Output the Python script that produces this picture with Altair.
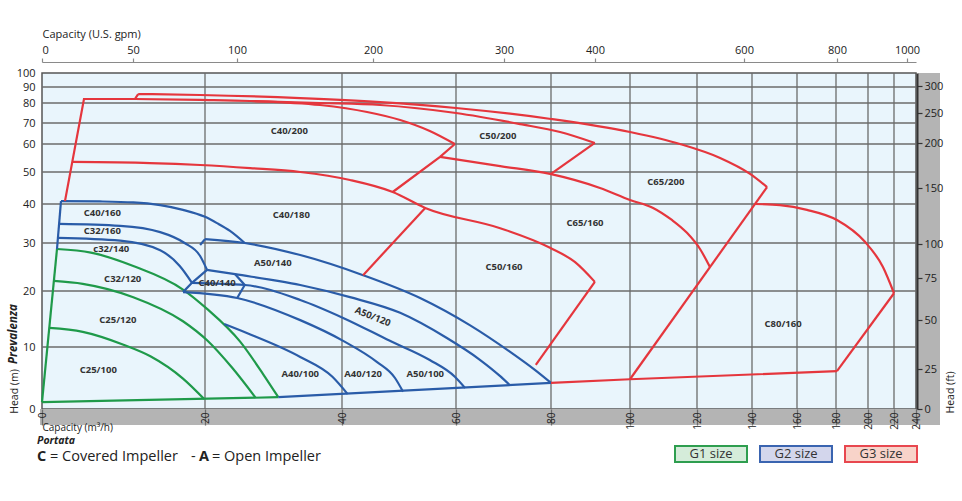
import altair as alt
import pandas as pd

# ---------------- axis tick values ----------------
q_ticks = [0, 20, 40, 60, 80, 100, 120, 140, 160, 180, 200, 220, 240]      # m3/h
h_ticks = [0, 10, 20, 30, 40, 50, 60, 70, 80, 90, 100]                     # m
gpm_ticks = [0, 50, 100, 200, 300, 400, 600, 800, 1000]                    # US gpm
ft_ticks = [0, 25, 50, 75, 100, 150, 200, 250, 300]                        # ft
grid_q = [20, 40, 60, 80, 100, 120, 140, 160, 180, 200, 220]
grid_h = [10, 20, 30, 40, 50, 60, 70, 80, 90]

# ---------------- G1 (green) ----------------
g1_bottom = [(0, 1.1), (30.7, 1.9)]
g1_left = [(0, 1.1), (1.84, 28.75)]
c25_100 = [(0.9, 13.4), (5, 12.7), (10, 10.4), (13.3, 8.5), (17.3, 4.9), (19.9, 1.6)]
c25_120 = [(1.46, 22.1), (5, 21.5), (11.2, 18.9), (17.3, 14.6), (20.3, 11.2), (24, 6.6), (27.4, 1.8)]
c32_120 = [(1.84, 28.75), (6, 28.0), (11.2, 25.2), (17.3, 20.3), (20.3, 16.8), (25.1, 11.0), (28.5, 5.6), (30.7, 1.9)]

# ---------------- G2 (blue) ----------------
g2_bottom = [(30.7, 1.9), (80, 4.2)]
g2_left = [(1.84, 28.75), (2.33, 40.9)]
c40_160 = [(2.33, 40.9), (7.1, 40.8), (11.2, 40.5), (14.5, 39.7), (17.3, 38.5), (20, 36.7), (21.75, 35.1), (23.65, 33.1), (25.8, 30.0)]
c32_160 = [(2.1, 34.9), (9.6, 34.4), (14.5, 32.8), (17.5, 30), (19.4, 27.3), (20.3, 24.4)]
c32_140 = [(1.95, 31.3), (9.6, 30.6), (14.5, 28.5), (16.9, 25.2), (18.4, 21.7)]
zig_l = [(20.3, 24.4), (18.4, 21.7), (17.3, 19.8)]
zig_r = [(24.4, 23.5), (25.8, 21.25), (24.7, 18.75)]
hook = [(19.4, 29.6), (20, 31)]
a50_140 = [(20, 31), (25.8, 30), (33.9, 27.5), (43.7, 23.3), (53.7, 18.75), (62.9, 13.9), (71.4, 9.2), (76.6, 6.3), (80, 4.2)]
a50_120 = [(20.3, 24.4), (24.4, 23.5), (33.9, 21.25), (41.4, 18.9), (50.2, 16.1), (58.4, 11.6), (65.1, 7.9), (69.3, 5.3), (71.4, 3.8)]
a50_100 = [(18.4, 21.7), (25.8, 21.25), (33.9, 18.4), (40.2, 15.2), (48.4, 11.1), (55.4, 7.9), (59.8, 5.2), (61.9, 3.4)]
a40_120 = [(17.3, 19.8), (24.7, 18.75), (33.9, 14.8), (40.2, 11.1), (46.1, 7.6), (49.3, 5.0), (50.7, 2.8)]
a40_100 = [(22.8, 14.1), (26.1, 12.5), (33.9, 8.4), (38.6, 5.2), (41, 2.4)]

# ---------------- G3 (red) ----------------
r_left = [(2.82, 40.9), (5.15, 82.5), (11.4, 82.5), (11.8, 85.6)]
c65_200 = [(11.8, 85.6), (19.4, 85.0), (33.9, 83.1), (46.7, 80.6), (60, 77.5), (80, 72), (100, 65.7), (114.9, 60), (128.4, 55), (139.3, 49.4), (146.7, 45.3)]
c40_200 = [(11.4, 82.5), (19.4, 81.9), (26.6, 81.25), (36.8, 79), (44.4, 75.5), (50.2, 71.5), (55.4, 66.2), (59.8, 60)]
c50_200 = [(26.6, 81.25), (36.8, 80), (46.7, 79), (60, 75), (73.5, 69.5), (82.3, 65.7), (91.1, 60.5)]
zig1 = [(59.8, 60), (57.2, 55.4), (48.9, 43.75)]
zig2 = [(91.1, 60.5), (80, 49.4)]
c65_160 = [(57.2, 55.4), (69.3, 52.1), (79.8, 49.4), (92.4, 45), (100, 41.25), (106.9, 39.0), (112.5, 35.9), (117, 32.6), (121.1, 28.75), (124.7, 25)]
c50_160 = [(3.72, 53.6), (13.25, 53.2), (19.4, 52.5), (26.6, 51.4), (33.9, 50), (41.4, 47.5), (48.9, 43.75), (54.6, 39), (69.3, 33.8), (79.8, 29), (86.1, 26), (91.1, 21.9)]
zig3 = [(54.6, 39), (43.7, 23.3)]
c50_160_right = [(91.1, 21.9), (76.8, 7.1)]
r_right = [(100, 4.8), (146.7, 45.3)]
c80_160 = [(141.3, 40), (152.4, 39.7), (165.1, 38.5), (180.6, 35.9), (198.1, 30.3), (211.5, 25), (220, 19.6)]
c80_160_right = [(220, 19.6), (180.6, 6.1)]
r_bottom = [(80, 4.2), (100, 4.8), (180.6, 6.1)]

# ---------------- model labels ----------------
model_names = ["C40/200", "C50/200", "C65/200", "C40/160", "C40/180", "C65/160", "C32/160",
               "c32/140", "A50/140", "C50/160", "C32/120", "C40/140", "C80/160", "C25/120",
               "C25/100", "A40/100", "A40/120", "A50/100", "A50/120"]
model_q = [32.3, 68.8, 110.7, 7.4, 32.6, 88.6, 7.4, 8.5, 29.9, 70.1, 9.9, 21.75, 153.8, 9.3,
           6.9, 33.9, 43.7, 54.6, 45.4]
model_h = [66.2, 63.8, 46.9, 37.7, 37.2, 35.1, 33.1, 28.75, 25.8, 25.0, 22.5, 21.7, 14.1, 14.8,
           6.3, 5.6, 5.6, 5.6, 15.4]

size_labels = ["G1 size", "G2 size", "G3 size"]

# ---------------- build tables ----------------
series = [
    ("g1_bottom", "G1", "line", g1_bottom), ("g1_left", "G1", "line", g1_left),
    ("c25_100", "G1", "curve", c25_100), ("c25_120", "G1", "curve", c25_120), ("c32_120", "G1", "curve", c32_120),
    ("g2_bottom", "G2", "line", g2_bottom), ("g2_left", "G2", "line", g2_left),
    ("c40_160", "G2", "curve", c40_160), ("c32_160", "G2", "curve", c32_160), ("c32_140", "G2", "curve", c32_140),
    ("zig_l", "G2", "line", zig_l), ("zig_r", "G2", "line", zig_r), ("hook", "G2", "line", hook),
    ("a50_140", "G2", "curve", a50_140), ("a50_120", "G2", "curve", a50_120), ("a50_100", "G2", "curve", a50_100),
    ("a40_120", "G2", "curve", a40_120), ("a40_100", "G2", "curve", a40_100),
    ("r_left", "G3", "line", r_left), ("c65_200", "G3", "curve", c65_200), ("c40_200", "G3", "curve", c40_200),
    ("c50_200", "G3", "curve", c50_200), ("zig1", "G3", "line", zig1), ("zig2", "G3", "line", zig2),
    ("c65_160", "G3", "curve", c65_160), ("c50_160", "G3", "curve", c50_160), ("zig3", "G3", "line", zig3),
    ("c50_160_right", "G3", "line", c50_160_right), ("r_right", "G3", "line", r_right),
    ("c80_160", "G3", "curve", c80_160), ("c80_160_right", "G3", "line", c80_160_right),
    ("r_bottom", "G3", "line", r_bottom),
]
rows = []
for name, grp, kind, pts in series:
    for i, (q, h) in enumerate(pts):
        rows.append({"series": name, "grp": grp, "kind": kind, "ord": i, "q": q, "h": h})
df_lines = pd.DataFrame(rows)
df_labels = pd.DataFrame({"lab": model_names, "q": model_q, "h": model_h})

# ---------------- layout (pixels of the plot area) ----------------
W, H = 874, 336
q_range = [0, 163, 300, 414, 509, 588, 655, 710, 755, 794, 826, 852, 874]
h_range = [336, 274, 218, 170, 131, 99, 71, 50, 30, 14, 0]
gpm_range = [0, 91, 195, 331, 462, 553, 702, 795, 865, 874]
ft_range = [336, 296, 247, 205, 171, 115, 70, 40, 13, 0]

FONT = "Open Sans"
TXT = "#222222"
GRID = "#6b6b6b"
BAND = "#b4b4b4"

xq = alt.Scale(domain=q_ticks, range=q_range, nice=False, zero=False)
yh = alt.Scale(domain=h_ticks, range=h_range, nice=False, zero=False)

x_axis = alt.Axis(values=q_ticks, labelAngle=270, labelFontSize=10, labelColor=TXT, labelFont=FONT,
                  ticks=True, tickSize=16, tickColor=GRID, tickWidth=1.3, domain=False, grid=False,
                  labelPadding=-13, labelOverlap=False, zindex=1,
                  title="Capacity  (m³/h)", titleX=0, titleY=18, titleAlign="left", titleAnchor="start",
                  titleBaseline="middle", titleFontWeight="normal", titleFontSize=10, titleColor=TXT,
                  titleFont=FONT)
y_axis = alt.Axis(values=h_ticks, ticks=False, domain=False, grid=False, labelPadding=7,
                  labelFontSize=11, labelColor=TXT, labelFont=FONT, labelOverlap=False,
                  title="Head (m)", titleAngle=270, titleX=-28, titleY=318, titleAlign="center",
                  titleBaseline="middle", titleFontWeight="normal", titleFontSize=10.5,
                  titleColor=TXT, titleFont=FONT)

X = alt.X("q:Q", scale=xq, axis=x_axis)
Y = alt.Y("h:Q", scale=yh, axis=y_axis)

color = alt.Color("grp:N", scale=alt.Scale(domain=["G1", "G2", "G3"],
                                           range=["#1f9a4a", "#2a5ca8", "#e5363d"]), legend=None)

one = pd.DataFrame({"d": [0]})

band_bottom = alt.Chart(one).mark_rect(color=BAND).encode(
    x=alt.value(-2), x2=alt.value(898), y=alt.value(336), y2=alt.value(352))
band_right = alt.Chart(one).mark_rect(color=BAND).encode(
    x=alt.value(876), x2=alt.value(898), y=alt.value(0), y2=alt.value(352))

vgrid = alt.Chart(pd.DataFrame({"q": grid_q})).mark_rule(color=GRID, strokeWidth=1.3).encode(x=X)
hgrid = alt.Chart(pd.DataFrame({"h": grid_h})).mark_rule(color=GRID, strokeWidth=1.3).encode(y=Y)

curves = alt.Chart(df_lines).transform_filter(alt.datum.kind == "curve").mark_line(
    interpolate="monotone", strokeWidth=2.2).encode(
    x=X, y=Y, color=color, detail="series:N", order="ord:Q")
straights = alt.Chart(df_lines).transform_filter(alt.datum.kind == "line").mark_line(
    strokeWidth=2.2).encode(x=X, y=Y, color=color, detail="series:N", order="ord:Q")

labels_flat = alt.Chart(df_labels).transform_filter(alt.datum.lab != "A50/120").mark_text(
    font=FONT, fontSize=9.5, fontWeight="bold", color="#333333").encode(x=X, y=Y, text="lab:N")
labels_tilt = alt.Chart(df_labels).transform_filter(alt.datum.lab == "A50/120").mark_text(
    font=FONT, fontSize=9.5, fontWeight="bold", color="#333333", angle=22).encode(x=X, y=Y, text="lab:N")


def note(txt, x, y, size, weight="normal", style="normal", angle=0, align="left"):
    return alt.Chart(one).mark_text(text=txt, font=FONT, fontSize=size, fontWeight=weight,
                                    fontStyle=style, align=align, baseline="middle", angle=angle,
                                    color=TXT).encode(x=alt.value(x), y=alt.value(y))


portata = note("Portata", -5, 367.5, 10.5, weight="bold", style="italic")
prevalenza = note("Prevalenza", -28, 261, 11.5, weight="bold", style="italic", angle=270, align="center")
note_c = note("C", -5, 383.5, 14.5, weight="bold")
note_c2 = note("= Covered Impeller", 8, 383.5, 14.5)
note_dash = note("-", 149, 383.5, 14.5)
note_a = note("A", 157, 383.5, 14.5, weight="bold")
note_a2 = note("= Open Impeller", 170, 383.5, 14.5)

main = alt.layer(band_bottom, band_right, hgrid, vgrid, curves, straights, labels_flat, labels_tilt,
                 portata, prevalenza, note_c, note_c2, note_dash, note_a, note_a2)

# ---------------- top axis (US gpm) ----------------
top = alt.Chart(pd.DataFrame({"gpm": gpm_ticks})).mark_tick(opacity=0).encode(
    x=alt.X("gpm:Q", scale=alt.Scale(domain=gpm_ticks + [1057], range=gpm_range, nice=False, zero=False),
            axis=alt.Axis(orient="top", values=gpm_ticks, format="d", offset=11, tickSize=4,
                          tickColor="#8a8a8a", domainColor="#8a8a8a", domainWidth=1.2, tickWidth=1.2,
                          labelPadding=3, labelFontSize=11, labelColor=TXT, labelFont=FONT, grid=False,
                          labelOverlap=False,
                          title="Capacity  (U.S. gpm)", titleX=0, titleY=-28, titleAlign="left",
                          titleAnchor="start", titleBaseline="middle", titleFontWeight="normal",
                          titleFontSize=11, titleColor=TXT, titleFont=FONT)))

# ---------------- right axis (ft) ----------------
right = alt.Chart(pd.DataFrame({"ft": ft_ticks})).mark_tick(opacity=0).encode(
    y=alt.Y("ft:Q", scale=alt.Scale(domain=ft_ticks + [328], range=ft_range, nice=False, zero=False),
            axis=alt.Axis(orient="right", values=ft_ticks, offset=1, tickSize=5, tickColor="#333333",
                          domainColor="#333333", domainWidth=2, tickWidth=1.2, labelPadding=2,
                          labelFontSize=11, labelColor=TXT, labelFont=FONT, grid=False, zindex=1,
                          labelOverlap=False,
                          title="Head (ft)", titleAngle=270, titleX=33, titleY=319, titleAlign="center",
                          titleBaseline="middle", titleFontWeight="normal", titleFontSize=10.5,
                          titleColor=TXT, titleFont=FONT)))

# ---------------- size legend ----------------
lx = alt.X("lab:N", scale=alt.Scale(type="point", domain=size_labels, range=[669, 839], padding=0), axis=None)
box = alt.Chart(pd.DataFrame({"lab": size_labels})).mark_point(
    shape="M-1,-0.222H1V0.222H-1Z", size=5184, filled=True, opacity=1, strokeWidth=2,
    strokeOpacity=1, fillOpacity=1).encode(
    x=lx, y=alt.value(381),
    fill=alt.Fill("lab:N", scale=alt.Scale(domain=size_labels, range=["#d5ecda", "#d3d6ec", "#f8d3c9"]), legend=None),
    stroke=alt.Stroke("lab:N", scale=alt.Scale(domain=size_labels, range=["#2e9e4f", "#3a64b0", "#e8474f"]), legend=None))
box_txt = alt.Chart(pd.DataFrame({"lab": size_labels})).mark_text(
    font=FONT, fontSize=13, color="#333333", baseline="middle").encode(x=lx, y=alt.value(381), text="lab:N")
legend = alt.layer(box, box_txt)

chart = alt.layer(main, top, right, legend).resolve_scale(x="independent", y="independent").properties(
    width=W, height=H,
    autosize=alt.AutoSizeParams(type="none"),
    padding={"left": 42, "top": 73, "right": 46, "bottom": 92},
    background="white",
).configure_view(fill="#e9f5fc", stroke="#555555", strokeWidth=1.5)

chart.save("out.html", embed_options={"renderer": "svg", "actions": False})
